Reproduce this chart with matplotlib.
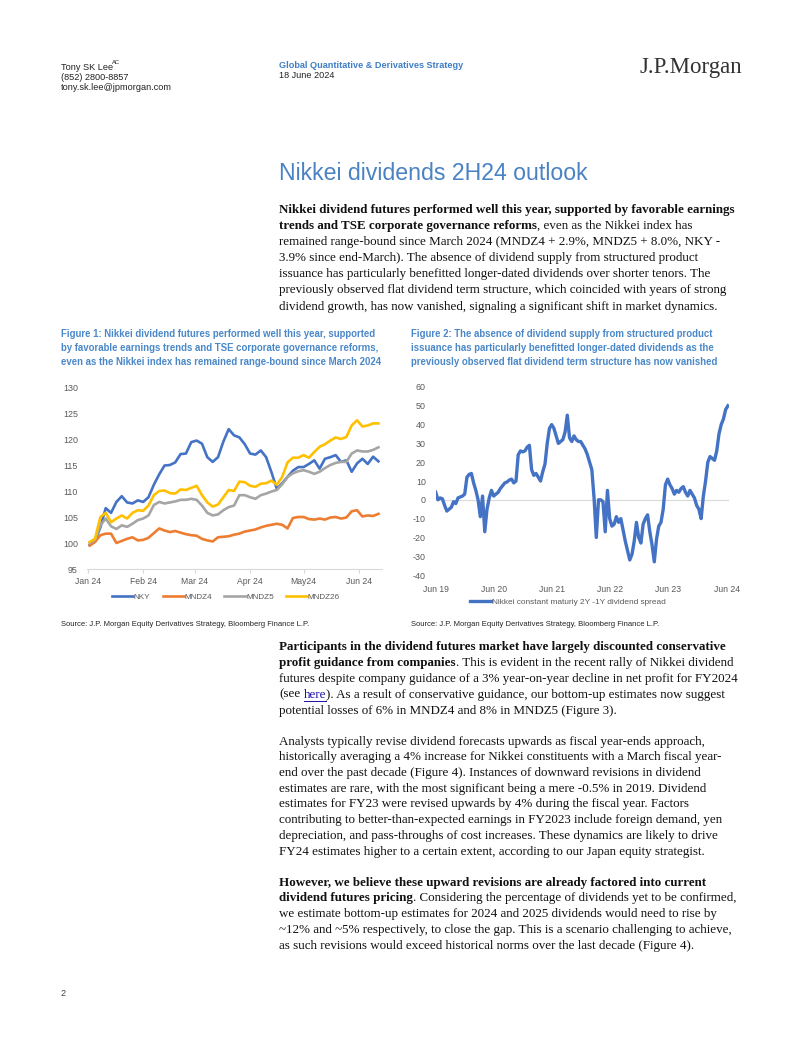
import matplotlib
matplotlib.use('Agg')
import matplotlib.pyplot as plt
from matplotlib.lines import Line2D
import pandas as pd

plt.rcParams['axes.unicode_minus'] = False

# ---- Figure 1 data (index level, rebased to 100) ----
fig1_series = ['NKY', 'MNDZ4', 'MNDZ5', 'MNDZ26']
nky = [99.6, 100.4, 103.0, 106.7, 105.8, 107.9, 109.0, 107.8, 107.6, 108.2,
       107.9, 108.8, 111.2, 113.2, 114.9, 115.0, 115.5, 117.1, 117.2, 119.4,
       119.7, 119.1, 116.5, 115.6, 116.5, 119.5, 121.9, 120.7, 120.3, 119.0,
       117.2, 117.0, 117.8, 116.5, 113.6, 110.4, 111.5, 112.7, 113.9, 114.6,
       114.6, 115.2, 115.9, 114.3, 116.2, 116.5, 116.9, 115.6, 115.9, 113.7,
       115.3, 116.2, 115.2, 116.6, 115.7]
mndz4 = [99.5, 100.2, 101.5, 101.8, 101.8, 100.0, 100.4, 100.8, 101.1, 100.5,
         100.6, 101.0, 101.9, 102.8, 102.4, 102.1, 102.3, 102.0, 101.7, 101.5,
         101.4, 100.8, 100.5, 100.3, 101.1, 101.2, 101.3, 101.6, 101.8, 102.2,
         102.4, 102.6, 103.0, 103.3, 103.5, 103.7, 103.5, 102.8, 104.8, 105.0,
         105.0, 104.6, 104.5, 104.7, 104.5, 104.9, 105.0, 104.7, 104.9, 106.1,
         106.3, 105.1, 105.3, 105.2, 105.6]
mndz5 = [100.0, 100.6, 103.4, 104.7, 103.2, 102.7, 103.4, 103.1, 103.7, 104.4,
         104.7, 105.3, 107.3, 107.9, 107.6, 107.8, 108.0, 108.3, 108.3, 108.5,
         108.3, 107.2, 105.8, 105.3, 105.5, 106.3, 106.9, 107.2, 109.2, 109.2,
         108.8, 108.5, 109.2, 109.5, 109.9, 110.2, 111.3, 112.7, 113.4, 113.8,
         114.0, 113.7, 113.3, 113.7, 114.4, 115.0, 115.4, 115.6, 115.6, 117.2,
         117.8, 117.6, 117.6, 117.9, 118.4]
mndz26 = [100.2, 100.8, 105.0, 105.8, 104.0, 104.7, 105.3, 104.7, 105.8, 106.3,
          106.2, 107.2, 109.2, 110.0, 110.1, 109.6, 109.5, 110.3, 110.2, 110.6,
          111.0, 109.2, 107.8, 107.0, 107.4, 108.8, 110.2, 110.0, 111.8, 111.7,
          111.0, 110.8, 111.4, 111.5, 112.0, 111.2, 112.7, 115.5, 116.4, 116.4,
          116.9, 116.4, 117.5, 118.5, 119.0, 119.7, 120.3, 120.0, 120.4, 122.6,
          123.6, 122.4, 122.6, 123.0, 123.0]
fig1_dates = pd.date_range('2024-01-02', periods=len(nky), freq='3D')
fig1_ticks = ['2024-01-01', '2024-02-01', '2024-03-01', '2024-04-01', '2024-05-01', '2024-06-01']
fig1_ticklabels = ['Jan 24', 'Feb 24', 'Mar 24', 'Apr 24', 'May24', 'Jun 24']
fig1_colors = ['#4472C4', '#ED7D31', '#A5A5A5', '#FFC000']

# ---- Figure 2 data (2Y-1Y dividend spread, fortnightly) ----
spread = [4, 0, 1, 0.5, -3, -6, -5, -4, -1, -2,
          1, 1.5, 2, 3, 12, 13.5, 14, 9, 5, 0,
          -9, 2, -17, -5, 1, 5, 2, 3, 4, 6,
          7.5, 9, 9.5, 10.5, 11, 9, 10, 24, 26, 25.5,
          26, 28, 29, 16, 13, 14, 12, 10, 15, 19,
          30, 38, 40, 38, 34, 30, 31, 32, 36, 45,
          33, 31, 34, 32, 31, 31, 29, 27, 24, 20,
          16, 1, -20, 0, 0, -1, -17, 5, -10, -14,
          -13, -9, -12, -10, -16, -22, -27, -32, -29, -22,
          -12, -20, -23, -13, -10, -8, -17, -24, -33, -21,
          -14, -12, -5, 8, 11, 8, 6, 3, 5, 4,
          6, 7, 4, 2, 5, 3, 1, -3, -5, -10,
          2, 10, 20, 23, 22, 21, 26, 35, 40, 43,
          48, 50]
fig2_dates = pd.date_range('2019-06-07', periods=len(spread), freq='14D')
fig2_ticks = ['2019-06-07', '2020-06-07', '2021-06-07', '2022-06-07', '2023-06-07', '2024-06-07']
fig2_ticklabels = ['Jun 19', 'Jun 20', 'Jun 21', 'Jun 22', 'Jun 23', 'Jun 24']
fig2_label = 'Nikkei constant maturiy 2Y -1Y dividend spread'

SANS = ['Liberation Sans', 'DejaVu Sans']
SERIF = ['Liberation Serif', 'DejaVu Serif']
BLUE = '#4a88c9'
GREY = '#595959'
BODY = 9.4

W, H = 802, 1037
fig = plt.figure(figsize=(W / 100, H / 100), dpi=100)
renderer = fig.canvas.get_renderer()


def put(x, y, s, **kw):
    # x, y in pixels from top-left
    kw.setdefault('va', 'center')
    return fig.text(x / W, 1 - y / H, s, **kw)


def width(s, **kw):
    t = put(0, 0, s, **kw)
    w = t.get_window_extent(renderer).width
    t.remove()
    return w


def rich_line(x, y, parts, size=BODY):
    # parts: list of (text, weight, color, underline)
    sp = width('x x', fontsize=size, family=SERIF) - width('xx', fontsize=size, family=SERIF)
    for s, w, c, u in parts:
        lead = len(s) - len(s.lstrip(' '))
        x += lead * sp
        s = s.strip(' ')
        t = put(x, y, s, fontsize=size, family=SERIF, weight=w, color=c)
        bw = t.get_window_extent(renderer).width
        if u:
            fig.add_artist(Line2D([x / W, (x + bw) / W], [1 - (y + 6) / H] * 2,
                                  color=c, lw=0.7))
        x += bw


# ---- header ----
put(61, 67, 'Tony SK Lee', fontsize=6.6, family=SANS, color='#222222')
put(112, 63, 'AC', fontsize=4.2, family=SANS, color='#222222')
put(61, 77, '(852) 2800-8857', fontsize=6.6, family=SANS, color='#222222')
put(61, 87, 'tony.sk.lee@jpmorgan.com', fontsize=6.6, family=SANS, color='#222222')
put(279, 66, 'Global Quantitative & Derivatives Strategy', fontsize=6.6, family=SANS,
    weight='bold', color='#3f7fc6')
put(279, 76, '18 June 2024', fontsize=6.6, family=SANS, color='#222222')
put(742, 68, 'J.P.Morgan', fontsize=16.5, family=SERIF, color='#333333', ha='right')

put(279, 173, 'Nikkei dividends 2H24 outlook', fontsize=16.7, family=SANS, color='#4a82c3')

# ---- paragraph 1 ----
K, B, LINK = '#111111', 'bold', '#1a0dab'
p1 = [
    [('Nikkei dividend futures performed well this year, supported by favorable earnings', B, K, 0)],
    [('trends and TSE corporate governance reforms', B, K, 0), (', even as the Nikkei index has', 'normal', K, 0)],
    [('remained range-bound since March 2024 (MNDZ4 + 2.9%, MNDZ5 + 8.0%, NKY -', 'normal', K, 0)],
    [('3.9% since end-March). The absence of dividend supply from structured product', 'normal', K, 0)],
    [('issuance has particularly benefitted longer-dated dividends over shorter tenors. The', 'normal', K, 0)],
    [('previously observed flat dividend term structure, which coincided with years of strong', 'normal', K, 0)],
    [('dividend growth, has now vanished, signaling a significant shift in market dynamics.', 'normal', K, 0)],
]
for i, parts in enumerate(p1):
    rich_line(279, 210 + 16.1 * i, parts)

# ---- figure captions ----
cap1 = ['Figure 1: Nikkei dividend futures performed well this year, supported',
        'by favorable earnings trends and TSE corporate governance reforms,',
        'even as the Nikkei index has remained range-bound since March 2024']
cap2 = ['Figure 2: The absence of dividend supply from structured product',
        'issuance has particularly benefitted longer-dated dividends as the',
        'previously observed flat dividend term structure has now vanished']
for i, s in enumerate(cap1):
    put(61, 334 + 14 * i, s, fontsize=6.95, family=SANS, weight='bold', color=BLUE)
for i, s in enumerate(cap2):
    put(411, 334 + 14 * i, s, fontsize=6.95, family=SANS, weight='bold', color=BLUE)

src = 'Source: J.P. Morgan Equity Derivatives Strategy, Bloomberg Finance L.P.'
put(61, 624, src, fontsize=5.5, family=SANS, color='#222222')
put(411, 624, src, fontsize=5.5, family=SANS, color='#222222')

# ---- chart 1 ----
ax1 = fig.add_axes([87 / W, 1 - 569 / H, 295 / W, 182 / H])
for vals, name, col in zip([nky, mndz4, mndz5, mndz26], fig1_series, fig1_colors):
    ax1.plot(fig1_dates, vals, color=col, lw=1.9, label=name)
ax1.set_ylim(95, 130)
ax1.set_yticks(range(95, 131, 5))
ax1.set_xlim(pd.Timestamp('2023-12-31 12:00'), pd.Timestamp('2024-06-14'))
ax1.set_xticks(pd.to_datetime(fig1_ticks))
ax1.set_xticklabels(fig1_ticklabels)
for sp in ['top', 'right', 'left']:
    ax1.spines[sp].set_visible(False)
ax1.spines['bottom'].set_color('#d9d9d9')
ax1.tick_params(axis='x', length=3, color='#d9d9d9', labelsize=6.2, labelcolor=GREY, pad=2.5)
ax1.tick_params(axis='y', length=0, labelsize=6.4, labelcolor=GREY, pad=6.5)
for t in ax1.get_xticklabels() + ax1.get_yticklabels():
    t.set_family(SANS)
ax1.patch.set_alpha(0)
leg1 = ax1.legend(loc='center left', bbox_to_anchor=(112 / W, 1 - 597 / H),
                  bbox_transform=fig.transFigure, ncol=4, frameon=False,
                  borderpad=0, borderaxespad=0, handlelength=2.6, handletextpad=0.05,
                  columnspacing=1.5, prop={'family': SANS, 'size': 5.9})
for t in leg1.get_texts():
    t.set_color(GREY)

# ---- chart 2 ----
ax2 = fig.add_axes([435.7 / W, 1 - 575 / H, (729 - 435.7) / W, 188 / H])
ax2.axhline(0, color='#d9d9d9', lw=0.8)
ax2.plot(fig2_dates, spread, color='#4472C4', lw=2.4, label=fig2_label)
ax2.set_ylim(-40, 60)
ax2.set_yticks(range(-40, 61, 10))
ax2.set_xlim(pd.Timestamp('2019-06-07'), pd.Timestamp('2024-06-21'))
ax2.set_xticks(pd.to_datetime(fig2_ticks))
ax2.set_xticklabels(fig2_ticklabels)
for sp in ax2.spines.values():
    sp.set_visible(False)
ax2.tick_params(axis='x', length=0, labelsize=6.2, labelcolor=GREY, pad=7)
ax2.tick_params(axis='y', length=0, labelsize=6.4, labelcolor=GREY, pad=7)
for t in ax2.get_xticklabels() + ax2.get_yticklabels():
    t.set_family(SANS)
ax2.patch.set_alpha(0)
leg2 = ax2.legend(loc='center left', bbox_to_anchor=(470 / W, 1 - 602 / H),
                  bbox_transform=fig.transFigure, frameon=False,
                  borderpad=0, borderaxespad=0, handlelength=2.6, handletextpad=0.05,
                  prop={'family': SANS, 'size': 5.95})
for t in leg2.get_texts():
    t.set_color(GREY)

# ---- paragraphs 2-4 ----
p2 = [
    [('Participants in the dividend futures market have largely discounted conservative', B, K, 0)],
    [('profit guidance from companies', B, K, 0), ('. This is evident in the recent rally of Nikkei dividend', 'normal', K, 0)],
    [('futures despite company guidance of a 3% year-on-year decline in net profit for FY2024', 'normal', K, 0)],
    [('(see', 'normal', K, 0), (' here', 'normal', LINK, 1), ('). As a result of conservative guidance, our bottom-up estimates now suggest', 'normal', K, 0)],
    [('potential losses of 6% in MNDZ4 and 8% in MNDZ5 (Figure 3).', 'normal', K, 0)],
]
p2_y = [647.3, 663.3, 679, 694.7, 710.7]
for y, parts in zip(p2_y, p2):
    rich_line(279, y, parts)

p3 = ['Analysts typically revise dividend forecasts upwards as fiscal year-ends approach,',
      'historically averaging a 4% increase for Nikkei constituents with a March fiscal year-',
      'end over the past decade (Figure 4). Instances of downward revisions in dividend',
      'estimates are rare, with the most significant being a mere -0.5% in 2019. Dividend',
      'estimates for FY23 were revised upwards by 4% during the fiscal year. Factors',
      'contributing to better-than-expected earnings in FY2023 include foreign demand, yen',
      'depreciation, and pass-throughs of cost increases. These dynamics are likely to drive',
      'FY24 estimates higher to a certain extent, according to our Japan equity strategist.']
for i, s in enumerate(p3):
    rich_line(279, 741.7 + 15.7 * i, [(s, 'normal', K, 0)])

p4 = [
    [('However, we believe these upward revisions are already factored into current', B, K, 0)],
    [('dividend futures pricing', B, K, 0), ('. Considering the percentage of dividends yet to be confirmed,', 'normal', K, 0)],
    [('we estimate bottom-up estimates for 2024 and 2025 dividends would need to rise by', 'normal', K, 0)],
    [('~12% and ~5% respectively, to close the gap. This is a scenario challenging to achieve,', 'normal', K, 0)],
    [('as such revisions would exceed historical norms over the last decade (Figure 4).', 'normal', K, 0)],
]
for i, parts in enumerate(p4):
    rich_line(279, 882.7 + 15.75 * i, parts)

put(60, 993, '2', fontsize=6.6, family=SANS, color='#444444')

fig.savefig('out.png', dpi=100)
